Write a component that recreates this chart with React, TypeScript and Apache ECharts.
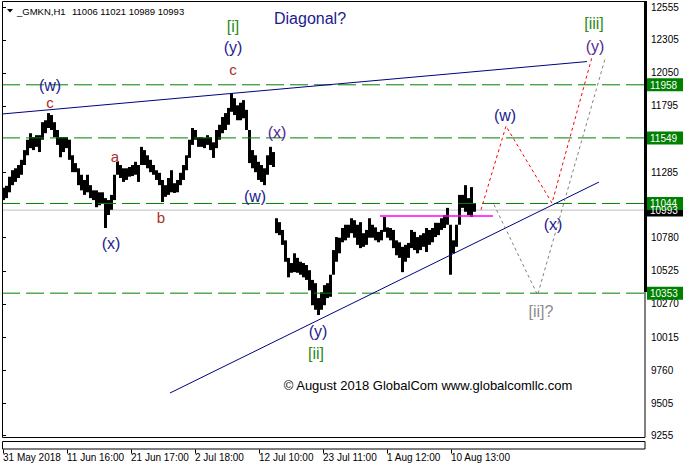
import React, { useEffect, useRef } from 'react';
import * as echarts from 'echarts';

// Sampled H1 bars (each entry spans 3 hourly bars): highs and lows in price
const barHigh = [
  11165, 11180, 11250, 11300, 11315, 11340, 11380, 11455, 11535, 11585,
  11555, 11570, 11570, 11670, 11685, 11740, 11725, 11670, 11610, 11555,
  11555, 11555, 11535, 11415, 11355, 11315, 11265, 11225, 11265, 11185,
  11145, 11145, 11130, 11130, 11085, 11070, 11110, 11265, 11365, 11340,
  11315, 11315, 11325, 11340, 11365, 11340, 11480, 11455, 11415, 11380,
  11340, 11300, 11280, 11225, 11185, 11240, 11300, 11200, 11225, 11280,
  11340, 11415, 11535, 11625, 11610, 11555, 11555, 11550, 11570, 11555,
  11515, 11610, 11650, 11710, 11740, 11780, 11895, 11855, 11800, 11820,
  11840, 11765, 11610, 11455, 11415, 11365, 11340, 11315, 11415, 11480,
  11440, 10930, 10900, 10840, 10760, 10625, 10585, 10660, 10625, 10595,
  10585, 10570, 10530, 10455, 10430, 10315, 10360, 10415, 10430, 10495,
  10685, 10785, 10780, 10855, 10880, 10880, 10930, 10915, 10880, 10900,
  10815, 10840, 10930, 10880, 10860, 10825, 10840, 10940, 10860, 10855,
  10840, 10760, 10745, 10710, 10725, 10740, 10840, 10825, 10785, 10800,
  10815, 10855, 10840, 10855, 10895, 10895, 10930, 10955, 11010, 10880,
  10760, 10880, 11110, 11110, 11185, 11085, 11170, 11045,
];
const barLow = [
  11070, 11085, 11130, 11185, 11210, 11240, 11265, 11340, 11415, 11470,
  11455, 11480, 11440, 11535, 11585, 11625, 11610, 11555, 11495, 11400,
  11440, 11470, 11380, 11285, 11285, 11185, 11145, 11110, 11130, 11085,
  11070, 11015, 11030, 11045, 10855, 10955, 10995, 11070, 11265, 11240,
  11210, 11225, 11250, 11255, 11265, 11210, 11340, 11340, 11315, 11285,
  11265, 11225, 11185, 11055, 11095, 11110, 11130, 11125, 11130, 11185,
  11225, 11300, 11395, 11495, 11535, 11480, 11480, 11470, 11495, 11455,
  11395, 11470, 11535, 11585, 11610, 11650, 11750, 11725, 11685, 11685,
  11700, 11610, 11355, 11315, 11285, 11225, 11210, 11185, 11265, 11340,
  11325, 10815, 10800, 10725, 10595, 10475, 10510, 10515, 10510, 10495,
  10475, 10455, 10375, 10260, 10225, 10185, 10225, 10260, 10315, 10325,
  10495, 10595, 10660, 10745, 10760, 10780, 10815, 10780, 10725, 10700,
  10710, 10725, 10780, 10780, 10760, 10745, 10760, 10825, 10780, 10760,
  10700, 10645, 10625, 10515, 10595, 10625, 10700, 10685, 10660, 10685,
  10710, 10670, 10725, 10745, 10785, 10800, 10840, 10855, 10880, 10495,
  10660, 10710, 10880, 11010, 10980, 10955, 10940, 10980,
];
const hoursPerColumn = 3;

const xTickValues = [1, 65, 129, 193, 257, 321, 385, 449];
const xTickLabels = [
  '31 May 2018', '11 Jun 16:00', '21 Jun 17:00', '2 Jul 18:00',
  '12 Jul 10:00', '23 Jul 11:00', '1 Aug 12:00', '10 Aug 13:00',
];
const yTickValues = [12555, 12305, 12050, 11795, 11285, 10780, 10525, 10270, 10015, 9760, 9505, 9255];

const levelPrices = [11958, 11549, 11044, 10353];
const lastPrice = 10993;
const upperTrend = [[0, 11733], [585, 12137]];
const lowerTrend = [[168, 9584], [597, 11209]];
const magentaLevel = [[378, 10947], [491, 10947]];
const redPath = [[479, 10996], [504, 11640], [550, 11047], [590, 12172]];
const grayPath = [[492, 11035], [535.6, 10339], [603, 12157]];

const headerSymbol = '_GMKN,H1';
const headerOHLC = '11006 11021 10989 10993';

export default function App() {
  const ref = useRef<HTMLDivElement>(null);

  useEffect(() => {
    const el = ref.current as HTMLDivElement;
    const chart = echarts.init(el, null, { renderer: 'svg' });
    const FONT = '"Liberation Sans", Arial, sans-serif';
    const NAVY = '#1b1b8f';
    const PURPLE = '#55288f';
    const GREEN = '#2c8a1c';
    const BROWN = '#a8302a';
    const GRAY = '#8c8c8c';

    const lineSeries = (data: number[][], color: string, type: any, width = 1, z = 4) => ({
      type: 'line',
      data,
      symbol: 'none',
      silent: true,
      z,
      lineStyle: { color, width, type },
    });

    const series: any[] = [
      lineSeries([[0, lastPrice], [643, lastPrice]], '#c0c0c0', 'solid', 1, 1),
      {
        type: 'custom',
        z: 2,
        silent: true,
        data: barHigh.map((h, i) => [i * hoursPerColumn + hoursPerColumn / 2, barLow[i], h]),
        renderItem: (params: any, api: any) => {
          const x = api.value(0);
          const top = api.coord([x, api.value(2)]);
          const bot = api.coord([x, api.value(1)]);
          return {
            type: 'rect',
            shape: { x: top[0] - 1.5, y: top[1], width: 3, height: Math.max(1, bot[1] - top[1]) },
            style: { fill: '#000' },
          };
        },
      },
      ...levelPrices.map((p) => lineSeries([[0, p], [643, p]], '#008000', [18, 6], 1, 3)),
      lineSeries(upperTrend, '#000080', 'solid'),
      lineSeries(lowerTrend, '#000080', 'solid'),
      lineSeries(magentaLevel, '#ff00ff', 'solid', 1.5),
      lineSeries(redPath, '#ff0000', [3, 3]),
      lineSeries(grayPath, '#808080', [3, 3]),
    ];

    const option: any = {
      animation: false,
      backgroundColor: '#ffffff',
      grid: { left: 2, top: 2, width: 643, height: 435.5, show: false },
      xAxis: {
        type: 'value',
        min: 0,
        max: 643,
        offset: 12,
        axisLine: { show: false },
        axisTick: { show: true, customValues: xTickValues, length: 4, lineStyle: { color: '#000' } },
        axisLabel: {
          customValues: xTickValues,
          formatter: (v: number) => {
            const i = xTickValues.indexOf(Math.round(v));
            return i >= 0 ? xTickLabels[i] : '';
          },
          align: 'left',
          margin: 3,
          fontSize: 10,
          fontFamily: FONT,
          color: '#000',
        },
        splitLine: { show: false },
      },
      yAxis: {
        type: 'value',
        position: 'right',
        min: 9241.2,
        max: 12595.8,
        axisLine: { show: false },
        axisTick: { show: true, customValues: yTickValues, length: 4, lineStyle: { color: '#000' } },
        axisLabel: {
          customValues: yTickValues,
          formatter: (v: number) => String(Math.round(v)),
          align: 'left',
          margin: 6,
          fontSize: 10,
          fontFamily: FONT,
          color: '#000',
        },
        splitLine: { show: false },
      },
      series,
    };

    chart.setOption(option);

    const txt = (text: string, x: number, y: number, fill: string, size = 16, align = 'center') => ({
      type: 'text',
      x,
      y,
      z: 50,
      silent: true,
      style: { text, fill, fontSize: size, fontFamily: FONT, align, verticalAlign: 'middle' },
    });

    const waveLabels = [
      txt('Diagonal?', 310, 18, NAVY),
      txt('[i]', 233, 26, GREEN),
      txt('(y)', 233, 47, NAVY),
      txt('c', 233, 69, BROWN, 15),
      txt('(w)', 50, 85.5, NAVY),
      txt('c', 50, 102, BROWN, 15),
      txt('a', 115, 156, BROWN, 15),
      txt('b', 161, 217, BROWN, 15),
      txt('(x)', 111, 243, NAVY),
      txt('(x)', 277, 132, PURPLE),
      txt('(w)', 255, 196, NAVY),
      txt('(y)', 318, 331, NAVY),
      txt('[ii]', 316, 353, GREEN),
      txt('(w)', 505, 115, NAVY),
      txt('(x)', 553, 224, NAVY),
      txt('[ii]?', 541, 311, GRAY),
      txt('[iii]', 594, 23, GREEN),
      txt('(y)', 595, 46, PURPLE),
      txt('\u00A9 August 2018 GlobalCom www.globalcomllc.com', 428, 385, '#000', 13),
    ];

    const tag = (price: number, fill: string) => {
      const y = chart.convertToPixel({ yAxisIndex: 0 }, price) as number;
      return [
        { type: 'rect', z: 60, silent: true, shape: { x: 647, y: y - 6.5, width: 36, height: 13 }, style: { fill } },
        {
          type: 'text', z: 61, silent: true, x: 650, y: y + 0.5,
          style: { text: String(price), fill: '#fff', fontSize: 10, fontFamily: FONT, align: 'left', verticalAlign: 'middle' },
        },
      ];
    };

    const graphics: any[] = [
      { type: 'rect', z: 40, silent: true, shape: { x: 2.5, y: 1.5, width: 642.5, height: 436 }, style: { fill: 'none', stroke: '#000', lineWidth: 1 } },
      { type: 'rect', z: 40, silent: true, shape: { x: 2.5, y: 441.5, width: 642.5, height: 7.5 }, style: { fill: 'none', stroke: '#000', lineWidth: 1 } },
      { type: 'rect', z: 41, silent: true, shape: { x: 644, y: 1, width: 3, height: 291 }, style: { fill: '#000' } },
      { type: 'polygon', z: 50, silent: true, shape: { points: [[7, 9], [13, 9], [10, 12.5]] }, style: { fill: '#000' } },
      txt(headerSymbol, 17, 11.5, '#000', 9.5, 'left'),
      txt(headerOHLC, 72, 11.5, '#000', 9.5, 'left'),
      ...waveLabels,
      ...tag(lastPrice, '#000'),
      ...levelPrices.flatMap((p) => tag(p, '#008000')),
    ];

    chart.setOption({ graphic: graphics });

    return () => chart.dispose();
  }, []);

  return (
    <div
      ref={ref}
      style={{ position: 'fixed', left: 0, top: 0, width: 685, height: 470, background: '#fff' }}
    />
  );
}
